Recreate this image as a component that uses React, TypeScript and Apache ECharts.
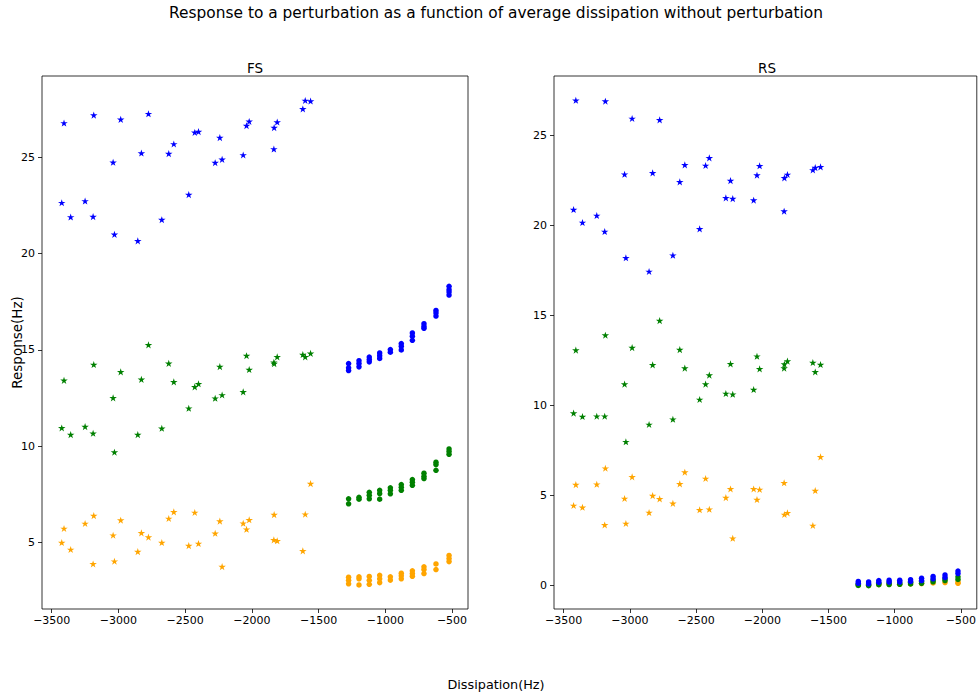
import React, { useEffect, useRef } from "react";
import * as echarts from "echarts";

// Dissipation (Hz) of the star-marked runs
const X_STAR = [-3425, -3408, -3358, -3250, -3190, -3185, -3040, -3030, -2983, -2855, -2828, -2775, -2675, -2623, -2585, -2473, -2428, -2400, -2275, -2240, -2223, -2065, -2040, -2020, -1835, -1833, -1810, -1618, -1600, -1560];

const FS_BLUE_STAR = [22.64, 26.78, 21.9, 22.73, 21.92, 27.19, 24.74, 21.0, 26.97, 20.66, 25.22, 27.26, 21.76, 25.19, 25.69, 23.06, 26.29, 26.33, 24.72, 26.02, 24.89, 25.12, 26.64, 26.86, 25.43, 26.54, 26.83, 27.51, 27.95, 27.92];
const FS_GREEN_STAR = [10.95, 13.42, 10.6, 11.02, 10.67, 14.24, 12.51, 9.69, 13.86, 10.6, 13.47, 15.26, 10.93, 14.3, 13.34, 11.97, 13.08, 13.24, 12.49, 14.13, 12.66, 12.82, 14.7, 13.98, 14.36, 14.29, 14.64, 14.76, 14.64, 14.82];
const FS_ORANGE_STAR = [5.0, 5.73, 4.64, 5.99, 3.89, 6.4, 5.38, 4.03, 6.16, 4.53, 5.5, 5.28, 5.0, 6.25, 6.59, 4.84, 6.56, 4.95, 5.48, 6.11, 3.75, 6.0, 5.69, 6.18, 5.14, 6.45, 5.09, 4.57, 6.47, 8.06];

const RS_BLUE_STAR = [20.86, 26.93, 20.14, 20.53, 19.64, 26.88, 22.82, 18.18, 25.92, 17.42, 22.9, 25.84, 18.32, 22.4, 23.34, 19.79, 23.31, 23.73, 21.51, 22.47, 21.47, 21.38, 22.77, 23.29, 20.77, 22.62, 22.81, 23.06, 23.19, 23.23];
const RS_GREEN_STAR = [9.55, 13.05, 9.36, 9.38, 9.38, 13.88, 11.16, 7.96, 13.19, 8.92, 12.23, 14.69, 9.21, 13.08, 12.05, 10.31, 11.16, 11.66, 10.64, 12.29, 10.6, 10.86, 12.71, 12.01, 12.05, 12.27, 12.44, 12.36, 11.84, 12.25];
const RS_ORANGE_STAR = [4.42, 5.58, 4.32, 5.6, 3.34, 6.49, 4.81, 3.42, 6.01, 4.03, 4.97, 4.79, 4.54, 5.62, 6.27, 4.18, 5.92, 4.21, 4.86, 5.34, 2.6, 5.34, 4.75, 5.31, 5.68, 3.92, 4.01, 3.31, 5.25, 7.12];

// Dissipation (Hz) of the circle-marked runs (several responses at each)
const X_CIRC = [-1275, -1197, -1120, -1042, -962, -880, -797, -710, -620, -522];

const FS_BLUE_CIRC = [[14.29, 14.07, 13.93], [14.44, 14.29, 14.12], [14.63, 14.5, 14.38], [14.84, 14.7, 14.56], [15.02, 14.88], [15.33, 15.19, 15.0], [15.88, 15.71, 15.5], [16.36, 16.22, 16.12], [17.05, 16.92, 16.76], [18.3, 18.13, 18.01, 17.85]];
const FS_GREEN_CIRC = [[7.27, 7.01], [7.35, 7.25], [7.61, 7.45, 7.27], [7.71, 7.54, 7.25], [7.84, 7.71, 7.53], [8.01, 7.87, 7.71], [8.27, 8.13, 7.97], [8.6, 8.44, 8.32], [9.17, 9.05, 8.75], [9.86, 9.72, 9.58]];
const FS_ORANGE_CIRC = [[3.2, 3.04, 2.86], [3.22, 3.12, 2.8], [3.24, 3.04, 2.83], [3.3, 3.12, 2.92], [3.22, 3.05], [3.41, 3.27, 3.12], [3.53, 3.39, 3.25], [3.74, 3.6, 3.39], [3.89, 3.6], [4.33, 4.17, 4.01]];

const RS_BLUE_CIRC = [[0.2, 0.1], [0.17, 0.07], [0.25, 0.15], [0.27, 0.17], [0.27, 0.17], [0.3, 0.2], [0.38, 0.25], [0.48, 0.35], [0.56, 0.42], [0.78, 0.64]];
const RS_GREEN_CIRC = [[0.05, -0.02], [0.03, -0.03], [0.1, 0.02], [0.12, 0.03], [0.12, 0.04], [0.15, 0.06], [0.2, 0.1], [0.28, 0.18], [0.35, 0.25], [0.46, 0.31]];
const RS_ORANGE_CIRC = [[0.0], [-0.02], [0.03], [0.04], [0.04], [0.06], [0.08], [0.12], [0.14], [0.17, 0.1]];

const X_TICKS = [-3500, -3000, -2500, -2000, -1500, -1000, -500];
const FS_Y_TICKS = [5, 10, 15, 20, 25];
const RS_Y_TICKS = [0, 5, 10, 15, 20, 25];

const TITLE = "Response to a perturbation as a function of average dissipation without perturbation";
const PANEL_TITLES = ["FS", "RS"];
const X_LABEL = "Dissipation(Hz)";
const Y_LABEL = "Response(Hz)";

const BLUE = "#0000ff";
const GREEN = "#008000";
const ORANGE = "#ffa500";
const FONT = "DejaVu Sans";

const STAR =
  "path://M10 0 L12.245 6.91 L19.511 6.91 L13.633 11.18 L15.878 18.09 L10 13.82 L4.122 18.09 L6.367 11.18 L0.489 6.91 L7.755 6.91 Z";

const starPairs = (ys: number[]) => X_STAR.map((x, i) => [x, ys[i]]);
const circPairs = (groups: number[][]) => {
  const out: number[][] = [];
  groups.forEach((g, i) => g.forEach((y) => out.push([X_CIRC[i], y])));
  return out;
};

const fmt = (v: number) => String(v).replace("-", "\u2212");

export default function App() {
  const ref = useRef<HTMLDivElement>(null);
  useEffect(() => {
    if (!ref.current) return;
    const chart = echarts.init(ref.current, null, { renderer: "svg" });

    const grids = [
      { left: 42, top: 76, width: 426, height: 533 },
      { left: 554, top: 76, width: 426, height: 533 },
    ].map((g) => ({
      ...g,
      show: true,
      borderColor: "#000",
      borderWidth: 0.8,
      backgroundColor: "transparent",
      containLabel: false,
    }));

    const xAxis = [0, 1].map((i) => ({
      type: "value",
      gridIndex: i,
      position: "bottom",
      min: -3573,
      max: -380,
      splitLine: { show: false },
      axisLine: { show: false, onZero: false },
      axisTick: {
        show: true,
        length: 4,
        customValues: X_TICKS,
        lineStyle: { color: "#000", width: 0.8 },
      },
      axisLabel: {
        customValues: X_TICKS,
        formatter: fmt,
        color: "#000",
        fontFamily: FONT,
        fontSize: 11,
        margin: 6,
      },
    }));

    const yAxis = [
      { ticks: FS_Y_TICKS, min: 1.55, max: 29.22 },
      { ticks: RS_Y_TICKS, min: -1.33, max: 28.28 },
    ].map((a, i) => ({
      type: "value",
      gridIndex: i,
      position: "left",
      min: a.min,
      max: a.max,
      name: i === 0 ? Y_LABEL : "",
      nameLocation: "middle",
      nameRotate: 90,
      nameGap: 18,
      nameMoveOverlap: false,
      nameTextStyle: { color: "#000", fontFamily: FONT, fontSize: 13.5 },
      splitLine: { show: false },
      axisLine: { show: false, onZero: false },
      axisTick: {
        show: true,
        length: 4,
        customValues: a.ticks,
        lineStyle: { color: "#000", width: 0.8 },
      },
      axisLabel: {
        customValues: a.ticks,
        formatter: fmt,
        color: "#000",
        fontFamily: FONT,
        fontSize: 11,
        margin: 7,
      },
    }));

    const mk = (data: number[][], color: string, star: boolean, idx: number, z: number) => ({
      type: "scatter",
      xAxisIndex: idx,
      yAxisIndex: idx,
      data,
      symbol: star ? STAR : "circle",
      symbolSize: star ? [7.5, 7.1] : 5.5,
      itemStyle: { color, opacity: 1 },
      z,
      silent: true,
    });

    const series = [
      mk(starPairs(FS_ORANGE_STAR), ORANGE, true, 0, 2),
      mk(starPairs(FS_GREEN_STAR), GREEN, true, 0, 3),
      mk(starPairs(FS_BLUE_STAR), BLUE, true, 0, 4),
      mk(circPairs(FS_ORANGE_CIRC), ORANGE, false, 0, 2),
      mk(circPairs(FS_GREEN_CIRC), GREEN, false, 0, 3),
      mk(circPairs(FS_BLUE_CIRC), BLUE, false, 0, 4),
      mk(starPairs(RS_ORANGE_STAR), ORANGE, true, 1, 2),
      mk(starPairs(RS_GREEN_STAR), GREEN, true, 1, 3),
      mk(starPairs(RS_BLUE_STAR), BLUE, true, 1, 4),
      mk(circPairs(RS_ORANGE_CIRC), ORANGE, false, 1, 2),
      mk(circPairs(RS_GREEN_CIRC), GREEN, false, 1, 3),
      mk(circPairs(RS_BLUE_CIRC), BLUE, false, 1, 4),
    ];

    const txt = (text: string, x: number, y: number, size: number) => ({
      type: "text",
      x,
      y,
      style: {
        text,
        fill: "#000",
        font: `${size}px '${FONT}'`,
        textAlign: "center",
        textVerticalAlign: "middle",
        align: "center",
        verticalAlign: "middle",
      },
    });

    chart.setOption({
      animation: false,
      backgroundColor: "#fff",
      grid: grids,
      xAxis,
      yAxis,
      series,
      graphic: [
        txt(TITLE, 496, 13, 15.4),
        txt(PANEL_TITLES[0], 255, 68, 13.5),
        txt(PANEL_TITLES[1], 767, 68, 13.5),
        txt(X_LABEL, 496, 684, 12.8),
      ],
    });
    return () => chart.dispose();
  }, []);
  return (
    <div
      ref={ref}
      style={{ position: "absolute", left: 0, top: 0, width: 979, height: 695 }}
    />
  );
}
